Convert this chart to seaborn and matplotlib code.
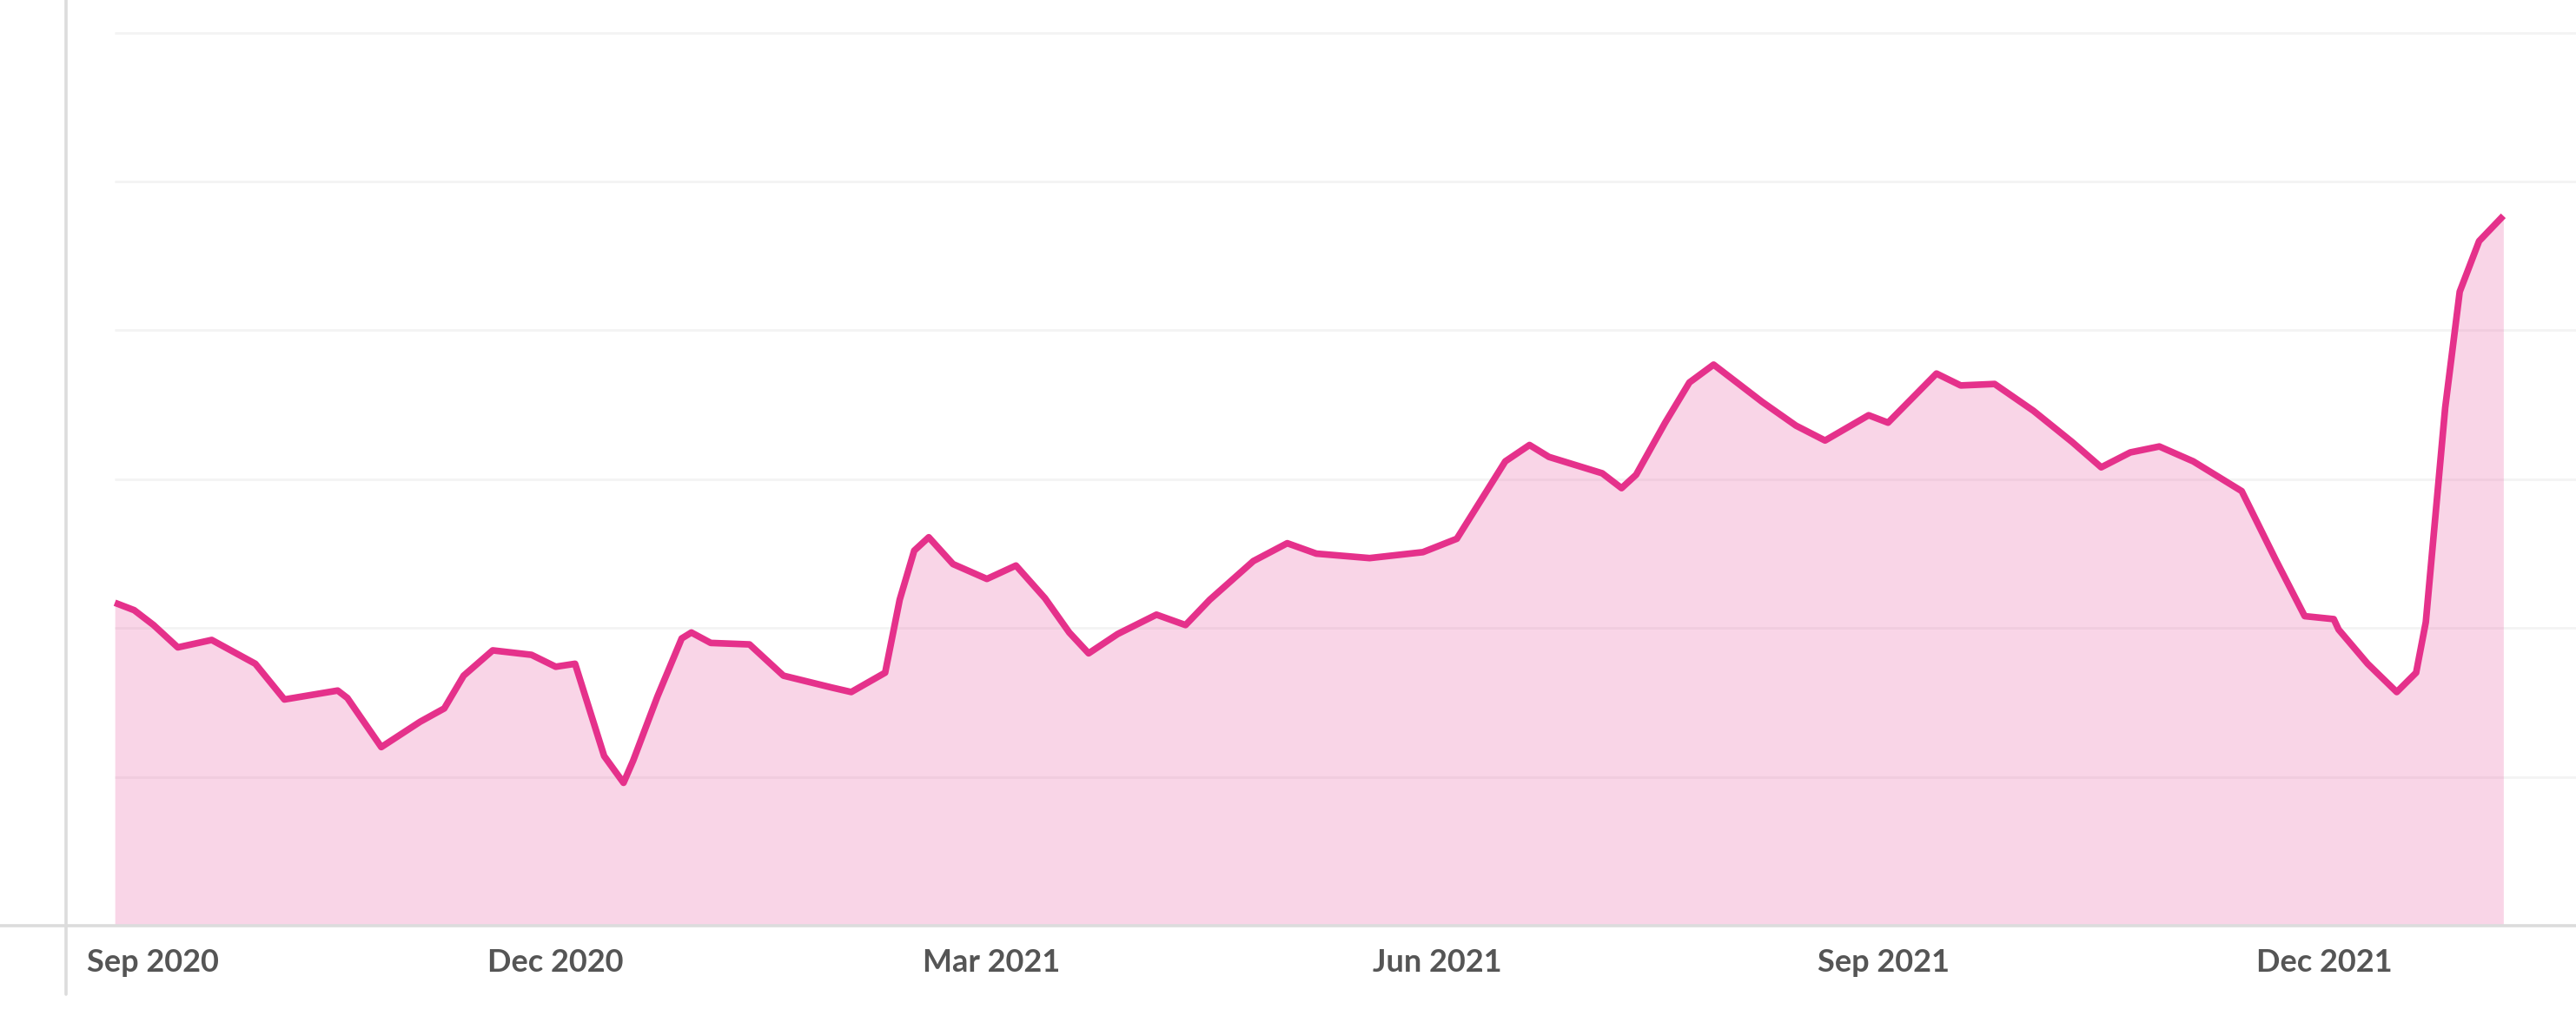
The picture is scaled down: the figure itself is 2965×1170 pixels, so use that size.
import matplotlib
matplotlib.use("Agg")
import matplotlib.pyplot as plt
import pandas as pd
import seaborn as sns

# values (weekly-ish index, no y labels shown)
dates = [
    "2020-09-01", "2020-09-05", "2020-09-09", "2020-09-14", "2020-09-21", "2020-09-30",
    "2020-10-06", "2020-10-17", "2020-10-19", "2020-10-26", "2020-11-03",
    "2020-11-08", "2020-11-12", "2020-11-18", "2020-11-26", "2020-12-01", "2020-12-05",
    "2020-12-11", "2020-12-15", "2020-12-17", "2020-12-22", "2020-12-27", "2020-12-29",
    "2021-01-02", "2021-01-10", "2021-01-17", "2021-01-27", "2021-01-31",
    "2021-02-07", "2021-02-10", "2021-02-13", "2021-02-16", "2021-02-21",
    "2021-02-28", "2021-03-06", "2021-03-12", "2021-03-17", "2021-03-21", "2021-03-27",
    "2021-04-04", "2021-04-10", "2021-04-15", "2021-04-24", "2021-05-01",
    "2021-05-07", "2021-05-18", "2021-05-29", "2021-06-05", "2021-06-15",
    "2021-06-20", "2021-06-24", "2021-07-05", "2021-07-09", "2021-07-12",
    "2021-07-18", "2021-07-23", "2021-07-28", "2021-08-07", "2021-08-14", "2021-08-20",
    "2021-08-29", "2021-09-02", "2021-09-12", "2021-09-17", "2021-09-24",
    "2021-10-02", "2021-10-10", "2021-10-16", "2021-10-22", "2021-10-28", "2021-11-04",
    "2021-11-14", "2021-11-21", "2021-11-27", "2021-12-03", "2021-12-04", "2021-12-10",
    "2021-12-16", "2021-12-20", "2021-12-22", "2021-12-26", "2021-12-29", "2022-01-02",
    "2022-01-07",
]
values = [
    21.7, 21.2, 20.2, 18.7, 19.2, 17.6,
    15.2, 15.8, 15.3, 12.0, 13.7,
    14.6, 16.8, 18.5, 18.2, 17.4, 17.6,
    11.4, 9.6, 11.1, 15.4, 19.3, 19.7,
    19.0, 18.9, 16.8, 16.0, 15.7,
    17.0, 21.9, 25.2, 26.1, 24.3,
    23.3, 24.2, 22.0, 19.7, 18.3, 19.6,
    20.9, 20.2, 21.9, 24.5, 25.7,
    25.0, 24.7, 25.1, 26.0, 31.2,
    32.3, 31.5, 30.4, 29.4, 30.3,
    33.8, 36.5, 37.7, 35.2, 33.6, 32.6,
    34.3, 33.8, 37.1, 36.3, 36.4,
    34.6, 32.5, 30.8, 31.8, 32.2, 31.2,
    29.2, 24.6, 20.8, 20.6, 19.9, 17.6,
    15.7, 17.0, 20.4, 34.8, 42.6, 46.0,
    47.7,
]
grid_values = [10, 20, 30, 40, 50, 60]
tick_dates = ["2020-09-01", "2020-12-01", "2021-03-01", "2021-06-01", "2021-09-01", "2021-12-01"]
tick_labels = ["Sep 2020", "Dec 2020", "Mar 2021", "Jun 2021", "Sep 2021", "Dec 2021"]

LINE = "#e5318b"
AXIS = "#dcdcdc"
GRID = "#f3f3f3"
TEXT = "#555555"

df = pd.DataFrame({"date": pd.to_datetime(dates), "value": values})

sns.set_theme(style="white")
plt.rcParams["font.family"] = ["Lato", "DejaVu Sans"]

W, H, DPI = 2965, 1170, 100
fig = plt.figure(figsize=(W / DPI, H / DPI), dpi=DPI)
ax = fig.add_axes([0, 104 / H, 1, 1 - 104 / H])

start = df["date"].iloc[0]
x_left = start - pd.Timedelta(days=23.7)
x_right = start + pd.Timedelta(days=508)
px_per_day = W / 531.7

# faint horizontal gridlines starting where the data starts
ax.hlines(grid_values, start, x_right, colors=GRID, linewidth=2, zorder=1)

ax.fill_between(df["date"], 0, df["value"], color=LINE, alpha=0.2, linewidth=0, zorder=2)
sns.lineplot(data=df, x="date", y="value", ax=ax, color=LINE, linewidth=5.5,
             solid_joinstyle="round", solid_capstyle="butt", zorder=3)

ax.set_xlim(x_left, x_right)
ax.set_ylim(0, 62.2)
ax.set_xlabel("")
ax.set_ylabel("")
ax.set_yticks([])

for side in ["top", "right", "left"]:
    ax.spines[side].set_visible(False)
ax.spines["bottom"].set_color(AXIS)
ax.spines["bottom"].set_linewidth(2.6)

# ticks from the second one on; the first label is nudged right past the axis line
tick_pos = pd.to_datetime(tick_dates)
ax.set_xticks(tick_pos[1:])
ax.set_xticklabels(tick_labels[1:], fontweight="bold")
ax.tick_params(axis="x", length=0, pad=19, labelsize=26, labelcolor=TEXT)
first_x = tick_pos[0] + pd.Timedelta(days=44 / px_per_day)
ax.text(first_x, -26 / (H - 104), tick_labels[0], transform=ax.get_xaxis_transform(),
        ha="center", va="top", fontsize=26, fontweight="bold", color=TEXT)

# vertical axis line that runs a little below the baseline
axis_x = x_left + pd.Timedelta(days=76 / px_per_day)
ax.axvline(axis_x, ymin=-(1145 - 1066) / (H - 104), ymax=1, color=AXIS, linewidth=2.6,
           clip_on=False, zorder=4)

fig.savefig("out.png", dpi=DPI)
